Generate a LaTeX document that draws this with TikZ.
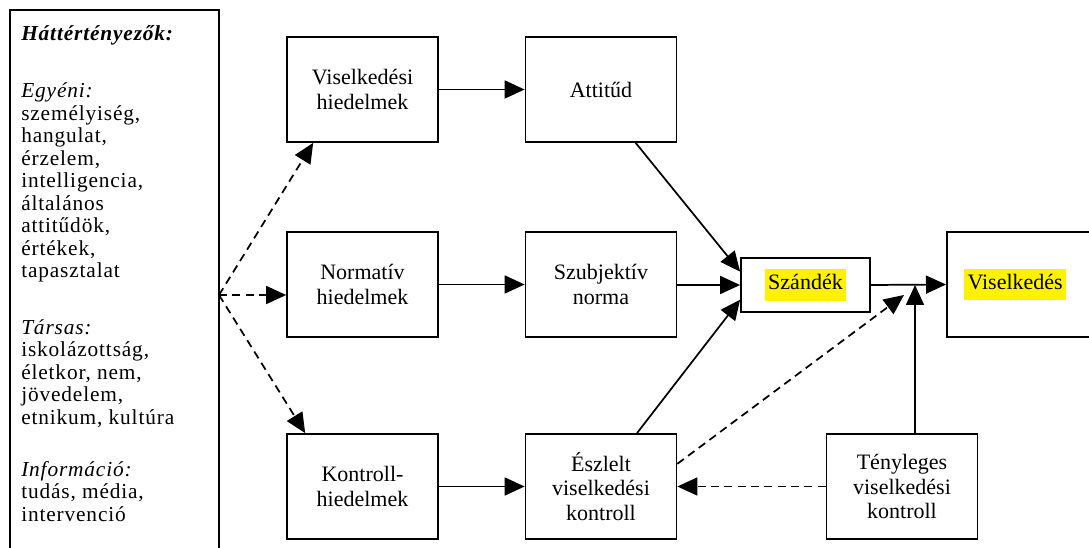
\documentclass[tikz,border=0pt]{standalone}
\usepackage{fontspec}
\setmainfont{Liberation Serif}[LetterSpace=4]
\newfontfamily\boxfont{Liberation Serif}
\usepackage{xcolor}
\usetikzlibrary{arrows.meta}

\tikzset{
  box/.style={draw, line width=1.3pt, minimum width=113.25pt, minimum height=78.75pt, align=center, inner sep=2pt, font=\boxfont\fontsize{16.5}{18.5}\selectfont},
  arr/.style={line width=1.3pt, -{Triangle[length=15pt,width=13.5pt]}},
  darr/.style={arr, dash pattern=on 6pt off 4pt},
}
\newcommand{\hilite}[1]{{\setlength{\fboxsep}{2.5pt}\colorbox{yellow}{\strut #1}}}

\begin{document}
\begin{tikzpicture}[x=0.75pt, y=-0.75pt]
  \useasboundingbox (0,0) rectangle (1089,548);

  % background factors
  \draw[line width=1.3pt] (10,560) -- (10,10) -- (219,10) -- (219,560);
  \node[anchor=north west, align=left, inner sep=0pt, font=\fontsize{16}{16.9}\selectfont] (hat) at (21,25)
    {\textbf{\textit{Háttértényezők:}}\\[26pt]
     \textit{Egyéni:}\\ személyiség,\\ hangulat,\\ érzelem,\\ intelligencia,\\ általános\\ attitűdök,\\ értékek,\\ tapasztalat\\[25.5pt]
     \textit{Társas:}\\ iskolázottság,\\ életkor, nem,\\ jövedelem,\\ etnikum, kultúra\\[22pt]
     \textit{Információ:}\\ tudás, média,\\ intervenció};
  \coordinate (src) at (219,295);

  % beliefs
  \node[box] (vh) at (362.5,89.5) {Viselkedési\\hiedelmek};
  \node[box] (nh) at (362.5,284.5) {Normatív\\hiedelmek};
  \node[box] (kh) at (362.5,486.5) {Kontroll-\\hiedelmek};

  \node[box] (att) at (601,89.5) {Attitűd};
  \node[box] (szn) at (601,284.5) {Szubjektív\\norma};
  \node[box] (evk) at (601,486.5) {Észlelt\\viselkedési\\kontroll};
  \node[box] (tvk) at (902,486.5) {Tényleges\\viselkedési\\kontroll};

  \node[box, minimum width=96.75pt, minimum height=40.5pt] (szd) at (805.5,285) {\hilite{Szándék}};
  \node[box, anchor=west, minimum width=126pt, text width=100pt, align=left, inner xsep=12pt] (vis) at (946,284.5)
    {\hilite{Viselkedés}};

  \coordinate (tvkup) at ([xshift=9.75pt]tvk.north);
  \coordinate (junc) at (904,295);

  % connectors
  \draw[arr] (vh) -- (att);
  \draw[arr] (nh) -- (szn);
  \draw[arr] (kh) -- (evk);
  \draw[arr] ([xshift=26pt]att.south) -- ([yshift=10pt]szd.west);
  \draw[arr] (szn.east |- szd.west) -- (szd.west);
  \draw[arr] ([xshift=27pt]evk.north) -- ([yshift=-11pt]szd.west);
  \draw[arr] (szd.east) -- (vis.west);
  \draw[arr] (tvkup) -- (tvkup |- szd.east);
  \draw[darr] ([yshift=17pt]evk.east) -- (junc);
  \draw[darr] (tvk.west |- evk.east) -- (evk.east);

  \draw[darr] (src) -- ([xshift=-37pt]vh.south);
  \draw[darr] (src) -- (nh.west |- src);
  \draw[darr] (src) -- ([xshift=-43pt]kh.north);
\end{tikzpicture}
\end{document}
